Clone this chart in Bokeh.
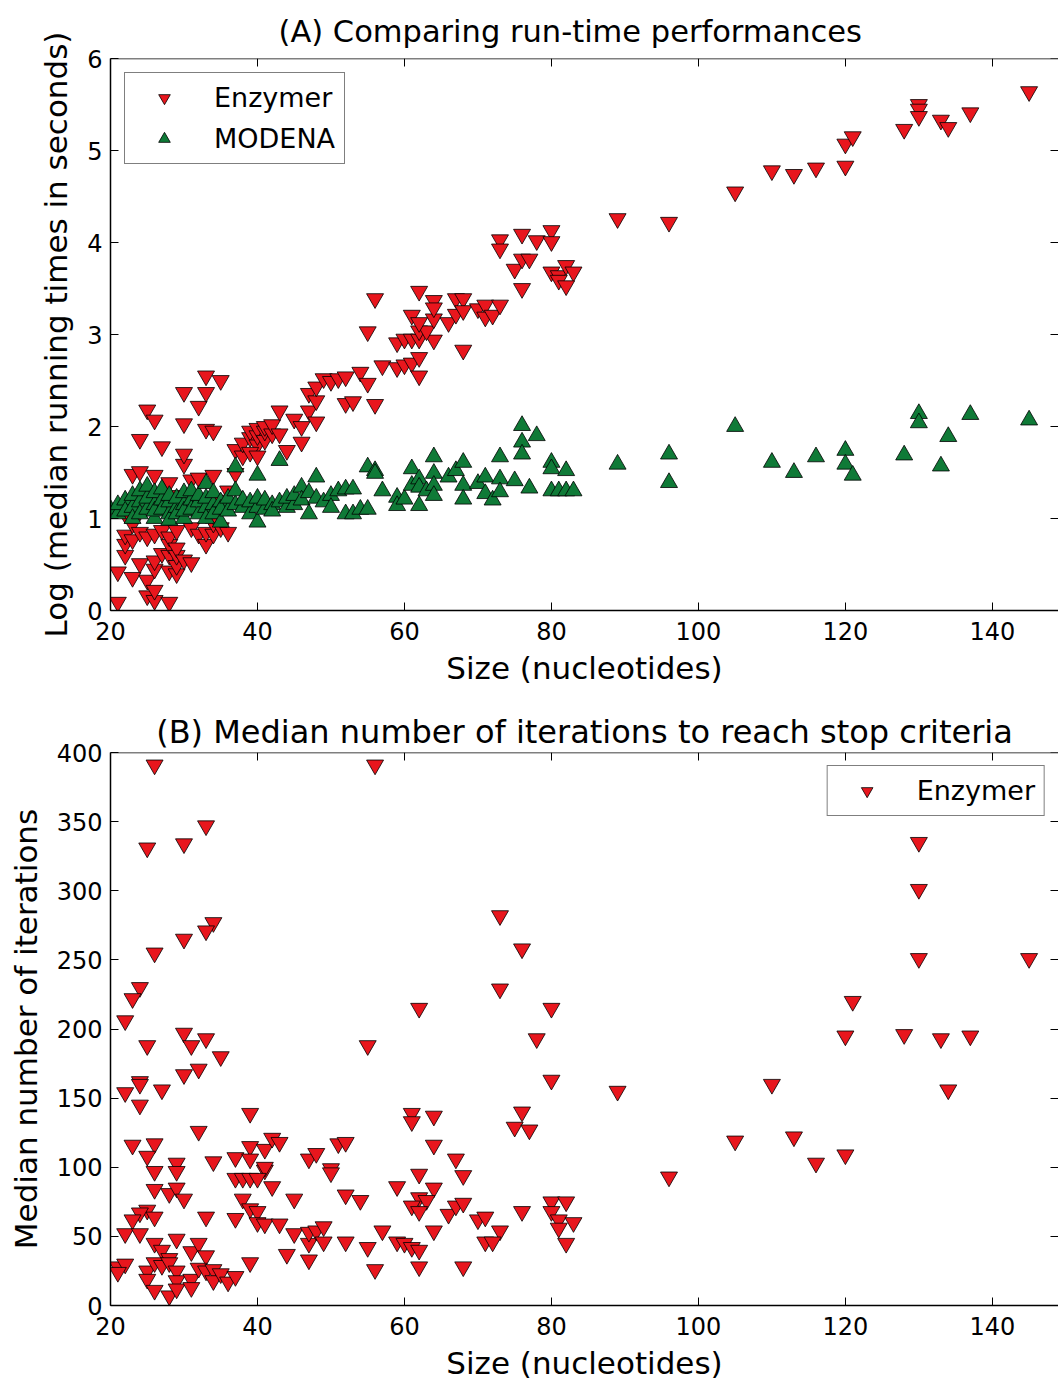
from bokeh.plotting import figure
from bokeh.models import LinearAxis, FixedTicker, Legend, LegendItem, Range1d, ColumnDataSource
from bokeh.layouts import column
from bokeh.embed import file_html
from bokeh.resources import INLINE

# ---------------- data ----------------
# Panel A: log(median running time in seconds) vs size (nucleotides)
enz_a = [
    (21, 0.09), (21, 0.42), (22, 0.60), (22, 0.72), (22, 0.82), (23, 0.36), (23, 0.77), (23, 0.94),
    (24, 0.51), (24, 0.85), (25, 0.16), (25, 0.33), (25, 0.80), (26, 0.11), (26, 0.22), (26, 0.45),
    (26, 0.54), (26, 0.83), (27, 0.87), (27, 0.62), (28, 0.09), (28, 0.43), (28, 0.60), (28, 0.72),
    (28, 0.80), (29, 0.40), (29, 0.49), (29, 0.60), (29, 0.68), (29, 0.87), (30, 0.55), (31, 0.52),
    (31, 0.90), (32, 0.83), (33, 0.72), (33, 0.85), (34, 0.83), (34, 0.95), (35, 0.90), (36, 0.85),
    (22, 1.05), (23, 1.48), (24, 1.51), (25, 1.22), (26, 1.47), (27, 1.15), (28, 1.39), (29, 1.25),
    (30, 1.10), (31, 1.42), (32, 1.44), (33, 1.05), (34, 1.47), (35, 1.20), (36, 1.30),
    (24, 1.86), (25, 2.18), (26, 2.07), (27, 1.78), (30, 1.59), (30, 1.70), (30, 2.03), (30, 2.37),
    (32, 2.22), (33, 1.97), (33, 2.37), (33, 2.55), (34, 1.95), (35, 2.50), (37, 1.49), (37, 1.75),
    (38, 1.68), (38, 1.82), (39, 1.88), (39, 1.95), (40, 1.80), (40, 1.90), (40, 1.98), (41, 1.85),
    (41, 1.95), (41, 2.00), (42, 1.92), (42, 2.02), (39, 1.72), (40, 1.68), (43, 1.92), (43, 2.17),
    (44, 1.74), (45, 2.08), (46, 1.83), (46, 2.00), (47, 2.17), (47, 2.36), (48, 2.28), (48, 2.43),
    (48, 2.05), (49, 2.52), (50, 2.49), (51, 2.52), (52, 2.54), (52, 2.25), (53, 2.27), (54, 2.59),
    (55, 2.47), (56, 2.24), (56, 3.39), (55, 3.03), (57, 2.66), (59, 2.64), (60, 2.67), (61, 2.69),
    (62, 2.75), (62, 2.55), (59, 2.91), (60, 2.95), (61, 2.95), (62, 2.95), (64, 2.94), (62, 3.04),
    (63, 3.04), (61, 3.21), (62, 3.13), (64, 3.17), (62, 3.47), (64, 3.37), (64, 3.29), (66, 3.13),
    (67, 3.39), (68, 3.39), (67, 3.22), (68, 3.26), (70, 3.28), (71, 3.32), (71, 3.19), (72, 3.21),
    (73, 3.32), (68, 2.83), (73, 4.03), (73, 3.93), (76, 4.09), (78, 4.02), (80, 4.13), (80, 4.01),
    (75, 3.71), (76, 3.82), (77, 3.82), (76, 3.50), (80, 3.68), (81, 3.64), (82, 3.75), (83, 3.68),
    (81, 3.59), (82, 3.53), (89, 4.26), (96, 4.22), (105, 4.55), (110, 4.78), (113, 4.74),
    (116, 4.81), (120, 4.83), (120, 5.07), (121, 5.15), (128, 5.23), (130, 5.50), (130, 5.45),
    (130, 5.37), (133, 5.33), (134, 5.25), (137, 5.41), (145, 5.64),
]
modena_a = [
    (20, 1.10), (21, 1.05), (21, 1.15), (22, 1.20), (22, 1.08), (23, 1.12), (23, 1.25), (23, 1.00),
    (24, 1.18), (24, 1.30), (24, 1.05), (25, 1.10), (25, 1.22), (25, 1.35), (26, 1.00), (26, 1.15),
    (26, 1.28), (26, 1.08), (27, 1.20), (27, 1.10), (27, 1.32), (28, 1.05), (28, 1.18), (28, 1.25),
    (28, 0.98), (29, 1.12), (29, 1.22), (29, 1.05), (30, 1.15), (30, 1.28), (30, 1.00), (30, 1.08),
    (31, 1.20), (31, 1.10), (31, 1.30), (32, 1.05), (32, 1.18), (32, 1.25), (33, 1.12), (33, 1.00),
    (33, 1.22), (33, 1.38), (34, 1.15), (34, 1.28), (34, 1.05), (35, 0.96), (35, 1.18), (35, 1.10),
    (36, 1.08), (36, 1.22), (37, 1.15), (37, 1.30), (37, 1.56), (38, 1.12), (38, 1.20), (39, 1.05),
    (39, 1.18), (40, 0.96), (40, 1.12), (40, 1.22), (40, 1.47), (41, 1.10), (41, 1.20), (42, 1.15),
    (42, 1.08), (43, 1.18), (43, 1.63), (44, 1.12), (44, 1.22), (45, 1.15), (45, 1.25), (46, 1.34),
    (46, 1.20), (47, 1.05), (47, 1.28), (48, 1.45), (48, 1.22), (49, 1.18), (50, 1.25), (50, 1.12),
    (51, 1.30), (52, 1.32), (52, 1.05), (53, 1.32), (53, 1.05), (54, 1.10), (55, 1.10), (55, 1.56),
    (56, 1.52), (56, 1.49), (57, 1.30), (59, 1.23), (59, 1.14), (60, 1.21), (61, 1.54), (61, 1.36),
    (62, 1.43), (62, 1.34), (62, 1.14), (63, 1.30), (64, 1.67), (64, 1.49), (64, 1.36), (64, 1.25),
    (66, 1.45), (67, 1.52), (68, 1.61), (68, 1.36), (68, 1.21), (70, 1.38), (71, 1.45), (71, 1.27),
    (72, 1.20), (73, 1.67), (73, 1.43), (73, 1.29), (75, 1.41), (76, 2.01), (76, 1.83), (76, 1.70),
    (77, 1.33), (78, 1.90), (80, 1.61), (80, 1.54), (80, 1.30), (81, 1.30), (82, 1.52), (82, 1.30),
    (83, 1.30), (89, 1.59), (96, 1.70), (96, 1.39), (105, 2.00), (110, 1.61), (113, 1.50),
    (116, 1.67), (120, 1.74), (120, 1.59), (121, 1.47), (128, 1.69), (130, 2.14), (130, 2.04),
    (133, 1.57), (134, 1.89), (137, 2.13), (145, 2.07),
]
# Panel B: median number of iterations vs size (nucleotides)
enz_b = [
    (26, 391), (33, 347), (25, 331), (30, 334), (34, 277), (33, 271), (30, 265), (26, 255), (24, 230),
    (23, 222), (22, 206), (30, 197), (33, 193), (31, 188), (25, 188), (35, 180), (32, 171), (30, 167),
    (24, 162), (22, 154), (24, 160), (27, 156), (24, 145), (39, 139), (32, 126), (23, 116), (26, 117),
    (25, 108), (29, 103), (29, 97), (26, 97), (34, 104), (37, 107), (39, 115), (39, 106), (41, 113),
    (42, 121), (43, 118), (41, 98), (41, 100), (37, 92), (38, 92), (39, 92), (40, 92), (42, 86),
    (26, 84), (28, 81), (29, 85), (30, 77), (38, 77), (45, 77), (47, 106), (48, 110), (51, 117),
    (50, 99), (50, 96), (52, 80), (25, 69), (24, 67), (23, 62), (26, 64), (22, 52), (24, 52), (33, 64),
    (37, 63), (39, 70), (40, 68), (40, 60), (41, 59), (43, 59), (45, 52), (47, 45), (47, 53), (48, 54),
    (49, 57), (49, 46), (44, 37), (47, 33), (52, 46), (29, 48), (26, 45), (27, 40), (28, 34), (31, 39),
    (32, 45), (33, 36), (39, 31), (21, 28), (22, 30), (21, 24), (25, 25), (26, 31), (27, 29), (28, 31),
    (25, 19), (26, 11), (28, 7), (29, 25), (29, 18), (29, 12), (31, 19), (31, 13), (32, 27), (33, 25),
    (34, 26), (34, 18), (35, 23), (36, 17), (37, 21),
    (73, 282), (76, 258), (73, 229), (62, 215), (80, 215), (55, 188), (78, 193), (80, 163), (61, 139),
    (61, 133), (64, 137), (76, 140), (75, 129), (77, 127), (64, 116), (52, 118), (67, 106), (68, 94),
    (62, 95), (59, 86), (64, 85), (54, 76), (62, 78), (63, 76), (61, 72), (62, 68), (66, 66),
    (67, 72), (68, 74), (70, 62), (71, 64), (73, 54), (71, 46), (72, 46), (76, 68), (80, 75), (82, 75),
    (80, 68), (81, 62), (83, 60), (81, 56), (82, 45), (64, 54), (57, 54), (55, 42), (59, 46),
    (60, 45), (61, 42), (62, 40), (56, 26), (62, 28), (68, 28),
    (89, 155), (96, 93), (105, 119), (110, 160), (113, 122), (116, 103), (120, 195), (120, 109),
    (121, 220), (128, 196), (130, 335), (130, 301), (130, 251), (133, 193), (134, 156), (137, 195),
    (145, 251), (56, 391),
]

size_enz_a = [p[0] for p in enz_a]
time_enz_a = [p[1] for p in enz_a]
size_mod_a = [p[0] for p in modena_a]
time_mod_a = [p[1] for p in modena_a]
size_enz_b = [p[0] for p in enz_b]
iter_enz_b = [p[1] for p in enz_b]

x_ticks = [20, 40, 60, 80, 100, 120, 140]
y_ticks_a = [0, 1, 2, 3, 4, 5, 6]
y_ticks_b = [0, 50, 100, 150, 200, 250, 300, 350, 400]

RED = "#e8161d"
GREEN = "#0f7a37"
FONT = "DejaVu Sans"
W = 1058
X_END = 149


def base_fig(height, top, bottom, yrange, yticks, ylabel, title, title_font, title_size,
             title_standoff, title_align="center", title_offset=0):
    p = figure(width=W, height=height, x_range=Range1d(20, X_END), y_range=Range1d(*yrange),
               output_backend="svg", toolbar_location=None,
               min_border_left=110, min_border_right=0, min_border_top=top, min_border_bottom=bottom,
               x_axis_location=None, y_axis_location=None)
    p.grid.visible = False
    p.outline_line_color = None
    p.background_fill_color = "white"
    p.border_fill_color = "white"
    p.title.text = title
    p.title.text_font = title_font
    p.title.text_font_size = title_size
    p.title.text_font_style = "normal"
    p.title.text_color = "black"
    p.title.align = title_align
    p.title.offset = title_offset
    p.title.standoff = title_standoff

    def mk_axis(ticks, show_labels, line=True, fixed=None):
        ax = LinearAxis(ticker=FixedTicker(ticks=ticks))
        if fixed is not None:
            ax.fixed_location = fixed
        ax.major_tick_in = 8
        ax.major_tick_out = 0
        ax.minor_tick_in = 0
        ax.minor_tick_out = 0
        ax.major_tick_line_color = "black"
        ax.major_tick_line_width = 1
        ax.axis_line_color = "black" if line else None
        ax.axis_line_width = 1.5
        if show_labels:
            ax.major_label_text_font = FONT
            ax.major_label_text_font_size = "24px"
            ax.major_label_text_color = "black"
            ax.axis_label_text_font = FONT
            ax.axis_label_text_font_size = "31px"
            ax.axis_label_text_font_style = "normal"
            ax.axis_label_text_color = "black"
        else:
            ax.major_label_overrides = {t: "" for t in ticks}
            ax.major_label_text_font_size = "2px"
            ax.major_label_standoff = 0
        return ax

    bx = mk_axis(x_ticks, True)
    bx.axis_label = "Size (nucleotides)"
    bx.major_label_standoff = 11
    bx.axis_label_standoff = 7
    ly = mk_axis(yticks, True)
    ly.axis_label = ylabel
    ly.major_label_standoff = 8
    ly.axis_label_standoff = 10
    tx = mk_axis(x_ticks, False, fixed=yrange[1])
    ry = mk_axis(yticks, False, line=False, fixed=X_END)
    p.add_layout(bx, "below")
    p.add_layout(ly, "left")
    p.add_layout(tx, "above")
    p.add_layout(ry, "right")
    return p


def style_legend(lg):
    lg.label_text_font = FONT
    lg.label_text_font_size = "27px"
    lg.label_text_color = "black"
    lg.glyph_width = 60
    lg.glyph_height = 29
    lg.label_height = 29
    lg.label_standoff = 20
    lg.padding = 9
    lg.spacing = 10
    lg.border_line_color = "black"
    lg.border_line_width = 1.5
    lg.background_fill_color = "white"
    lg.background_fill_alpha = 1.0


# ---------------- Panel A ----------------
pA = base_fig(690, 58, 80, (0, 6), y_ticks_a, "Log (median running times in seconds)",
              "(A) Comparing run-time performances", FONT, "30.5px", 19,
              title_align="left", title_offset=168)
src_ea = ColumnDataSource(dict(x=size_enz_a, y=time_enz_a))
src_ma = ColumnDataSource(dict(x=size_mod_a, y=time_mod_a))
r_ea = pA.scatter("x", "y", source=src_ea, marker="inverted_triangle", size=17,
                  fill_color=RED, line_color="black", line_width=0.8)
r_ma = pA.scatter("x", "y", source=src_ma, marker="triangle", size=17,
                  fill_color=GREEN, line_color="black", line_width=0.8)
legA = Legend(items=[LegendItem(label="Enzymer", renderers=[r_ea]),
                     LegendItem(label="MODENA", renderers=[r_ma])],
              location="top_left")
style_legend(legA)
legA.margin = 14
pA.add_layout(legA)

# ---------------- Panel B ----------------
pB = base_fig(693, 62, 78, (0, 400), y_ticks_b, "Median number of iterations",
              "(B) Median number of iterations to reach stop criteria", FONT, "32px", 3)
src_eb = ColumnDataSource(dict(x=size_enz_b, y=iter_enz_b))
r_eb = pB.scatter("x", "y", source=src_eb, marker="inverted_triangle", size=17,
                  fill_color=RED, line_color="black", line_width=0.8)
legB = Legend(items=[LegendItem(label="Enzymer", renderers=[r_eb])], location="top_right")
style_legend(legB)
legB.margin = 13
pB.add_layout(legB)

layout = column(pA, pB, spacing=0)
open("out.html", "w").write(file_html(layout, INLINE))
